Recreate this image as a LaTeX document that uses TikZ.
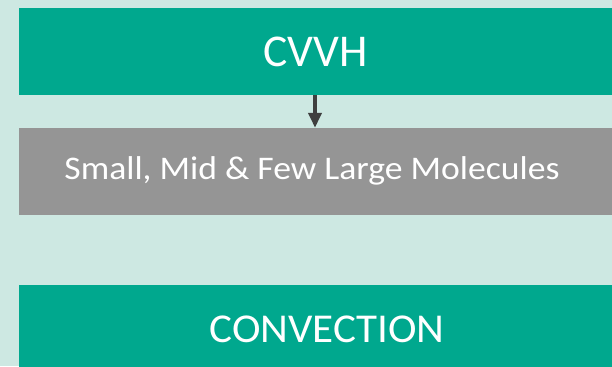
\documentclass[tikz,border=0pt]{standalone}
\usepackage{fontspec}
\setmainfont{Carlito}
\newfontfamily\fontA{Carlito}
\newfontfamily\fontB[FakeStretch=1.08]{Carlito}
\newfontfamily\fontC[FakeStretch=1.05]{Carlito}
\usetikzlibrary{arrows.meta}
\definecolor{bgmint}{HTML}{CDE8E2}
\definecolor{tealbox}{HTML}{00A88E}
\definecolor{greybox}{HTML}{959595}
\definecolor{arrowgrey}{HTML}{3F3F3F}
\tikzset{
  band/.style={minimum width=600bp, minimum height=87bp, inner sep=0pt, anchor=west},
  tealband/.style={band, fill=tealbox},
  greyband/.style={band, fill=greybox},
  bandtext/.style={inner sep=0pt, text=white, anchor=base},
  downarrow/.style={draw=arrowgrey, line width=4bp, -{Triangle[width=13bp,length=15bp]}}
}
\begin{document}
\begin{tikzpicture}[x=1bp,y=-1bp]
\useasboundingbox (0,0) rectangle (612,366);
\clip (0,0) rectangle (612,366);
\fill[bgmint] (0,0) rectangle (612,366);
\node[tealband] (cvvh) at (19,51.5) {};
\node[greyband] (mol) at (19,171.5) {};
\node[tealband] (conv) at (19,328.5) {};
\node[bandtext, font=\fontA\fontsize{45.5bp}{48bp}\selectfont] (cvvhtxt) at (315.5,66) {CVVH};
\node[bandtext, font=\fontB\fontsize{33bp}{36bp}\selectfont] (moltxt) at (312,179) {Small, Mid \& Few Large Molecules};
\node[bandtext, font=\fontC\fontsize{41bp}{44bp}\selectfont] (convtxt) at (327,342.7) {CONVECTION};
\draw[downarrow] (cvvh.south -| 315,0) -- (mol.north -| 315,0);
\end{tikzpicture}
\end{document}
